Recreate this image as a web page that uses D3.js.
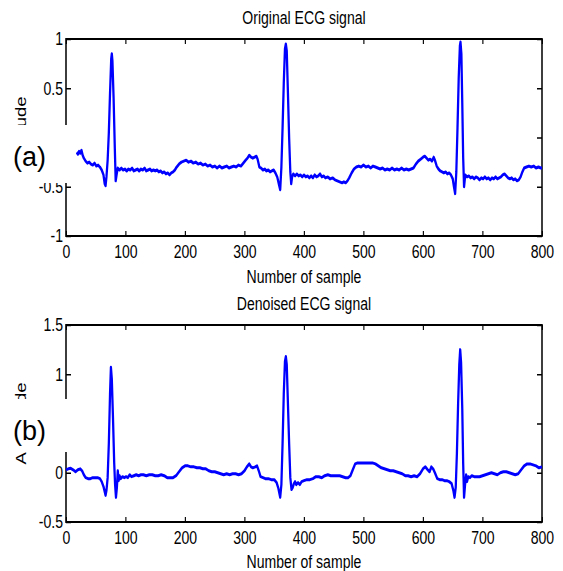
<!DOCTYPE html>
<html>
<head>
<meta charset="utf-8">
<script src="https://cdn.jsdelivr.net/npm/d3@7"></script>
<style>
  body { margin: 0; background: #fff; }
  text { font-family: "Liberation Sans", Arial, sans-serif; }
</style>
</head>
<body>
<svg id="chart" width="563" height="571"></svg>
<script>
// sample axis, shared by both panels
var xTicks = [0, 100, 200, 300, 400, 500, 600, 700, 800];
var xTickLabels = ["0", "100", "200", "300", "400", "500", "600", "700", "800"];

// (a) original ECG
var yTicksA = [1, 0.5, 0, -0.5, -1];
var yTickLabelsA = ["1", "0.5", "0", "-0.5", "-1"];
var sampleA = [18, 20, 22, 24, 26, 28, 30, 33, 36, 39, 42, 45, 48, 51, 54, 57, 60, 63, 65, 66.5, 68, 70, 72, 74, 76, 77, 78, 80, 82, 83.5, 85, 87, 90, 93, 96, 99, 102, 105, 108, 111, 114, 117, 120, 123, 126, 129, 132, 135, 138, 141, 144, 147, 150, 153, 156, 159, 162, 165, 168, 171, 174, 177, 180, 183, 186, 190, 194, 198, 202, 206, 210, 214, 218, 222, 226, 230, 234, 238, 242, 246, 250, 254, 258, 262, 266, 270, 274, 278, 282, 286, 290, 294, 298, 302, 305, 308, 311, 314, 317, 320, 322, 325, 328, 331, 334, 337, 340, 343, 346, 349, 352, 355, 358, 360, 362, 364, 366, 368, 369.5, 371, 373, 375, 377, 378.5, 380, 382, 385, 388, 391, 394, 397, 400, 403, 406, 409, 412, 415, 418, 421, 424, 427, 430, 433, 436, 440, 444, 448, 452, 456, 460, 464, 467, 470, 473, 476, 480, 484, 488, 492, 496, 500, 504, 508, 512, 516, 520, 524, 528, 532, 536, 540, 544, 548, 552, 556, 560, 564, 568, 572, 576, 580, 584, 588, 592, 596, 600, 603, 606, 609, 612, 615, 618, 620, 623, 626, 629, 632, 635, 638, 641, 644, 647, 650, 652, 654, 656, 658, 660, 662, 663, 664.5, 666, 667.5, 669, 671, 674, 677, 680, 683, 686, 689, 692, 695, 698, 701, 704, 707, 710, 713, 716, 719, 722, 725, 728, 731, 734, 737, 740, 743, 746, 749, 752, 755, 758, 761, 764, 767, 770, 774, 778, 782, 786, 790, 794, 798, 800];
var ampA = [-0.15, -0.17, -0.14, -0.16, -0.13, -0.18, -0.21, -0.24, -0.26, -0.25, -0.27, -0.28, -0.26, -0.29, -0.28, -0.30, -0.33, -0.38, -0.47, -0.49, -0.40, -0.23, 0.05, 0.45, 0.80, 0.85, 0.78, 0.40, -0.10, -0.44, -0.38, -0.31, -0.33, -0.31, -0.33, -0.32, -0.34, -0.32, -0.33, -0.31, -0.34, -0.33, -0.32, -0.34, -0.32, -0.33, -0.31, -0.34, -0.33, -0.32, -0.34, -0.33, -0.34, -0.33, -0.35, -0.34, -0.36, -0.35, -0.37, -0.36, -0.38, -0.36, -0.35, -0.33, -0.30, -0.27, -0.25, -0.24, -0.23, -0.25, -0.24, -0.26, -0.25, -0.27, -0.26, -0.28, -0.27, -0.29, -0.28, -0.30, -0.29, -0.31, -0.29, -0.31, -0.30, -0.29, -0.31, -0.30, -0.29, -0.30, -0.28, -0.29, -0.26, -0.23, -0.21, -0.18, -0.20, -0.21, -0.20, -0.19, -0.22, -0.30, -0.31, -0.33, -0.32, -0.34, -0.33, -0.35, -0.34, -0.33, -0.36, -0.40, -0.48, -0.53, -0.30, 0.10, 0.55, 0.90, 0.95, 0.88, 0.45, 0.00, -0.35, -0.47, -0.40, -0.37, -0.39, -0.37, -0.39, -0.38, -0.40, -0.38, -0.40, -0.39, -0.41, -0.39, -0.41, -0.38, -0.40, -0.39, -0.37, -0.40, -0.39, -0.41, -0.40, -0.42, -0.41, -0.43, -0.44, -0.45, -0.46, -0.45, -0.46, -0.44, -0.41, -0.36, -0.32, -0.30, -0.29, -0.30, -0.28, -0.30, -0.29, -0.31, -0.29, -0.30, -0.31, -0.32, -0.31, -0.33, -0.32, -0.33, -0.31, -0.33, -0.32, -0.33, -0.31, -0.33, -0.32, -0.33, -0.32, -0.31, -0.27, -0.24, -0.22, -0.20, -0.19, -0.21, -0.23, -0.22, -0.24, -0.20, -0.23, -0.29, -0.32, -0.34, -0.35, -0.36, -0.35, -0.37, -0.36, -0.38, -0.42, -0.50, -0.57, -0.35, 0.10, 0.60, 0.93, 0.97, 0.85, 0.35, -0.20, -0.50, -0.38, -0.40, -0.39, -0.41, -0.40, -0.42, -0.40, -0.41, -0.43, -0.41, -0.42, -0.40, -0.42, -0.41, -0.43, -0.41, -0.42, -0.40, -0.42, -0.41, -0.40, -0.38, -0.37, -0.39, -0.41, -0.42, -0.41, -0.43, -0.42, -0.44, -0.43, -0.40, -0.35, -0.31, -0.30, -0.29, -0.30, -0.29, -0.31, -0.30, -0.31, -0.31];

// (b) denoised ECG
var yTicksB = [1.5, 1, 0.5, 0, -0.5];
var yTickLabelsB = ["1.5", "1", "0.5", "0", "-0.5"];
var sampleB = [0, 4, 8, 12, 16, 20, 24, 27, 30, 33, 37, 41, 45, 49, 53, 57, 60, 63, 65, 66.5, 68, 70, 72, 74, 75.5, 77, 79, 81, 82.5, 84, 85.5, 87, 88.5, 90, 92, 95, 98, 101, 104, 107, 110, 114, 118, 122, 126, 130, 135, 140, 145, 150, 155, 160, 165, 170, 175, 180, 185, 190, 195, 200, 205, 210, 215, 220, 225, 230, 235, 240, 245, 250, 255, 260, 265, 270, 275, 280, 285, 290, 295, 300, 304, 308, 311, 314, 318, 321, 324, 327, 331, 335, 340, 345, 350, 354, 357, 360, 362, 364, 366, 368, 369.5, 371, 373, 375, 377, 379, 381, 383, 385, 387, 390, 393, 396, 400, 405, 410, 415, 420, 425, 430, 435, 440, 445, 450, 455, 460, 465, 470, 474, 478, 482, 486, 490, 495, 500, 505, 510, 515, 520, 525, 530, 535, 540, 545, 550, 555, 560, 565, 570, 575, 580, 585, 590, 595, 600, 604, 608, 611, 614, 617, 620, 624, 628, 632, 636, 640, 644, 648, 651, 653, 655, 657, 659, 661, 662.5, 664, 666, 667.5, 669, 671, 672.5, 674, 676, 679, 682, 686, 690, 695, 700, 705, 710, 715, 720, 725, 730, 735, 740, 745, 750, 755, 760, 765, 770, 775, 780, 785, 790, 795, 800];
var ampB = [0.03, 0.04, 0.045, 0.03, 0.01, 0.03, 0.04, 0.02, -0.02, -0.05, -0.06, -0.06, -0.05, -0.05, -0.05, -0.06, -0.09, -0.14, -0.19, -0.23, -0.18, -0.05, 0.30, 0.80, 1.07, 0.95, 0.55, 0.10, -0.12, -0.25, -0.15, 0.02, -0.08, -0.03, -0.06, -0.04, -0.05, -0.04, -0.05, -0.02, -0.04, -0.03, -0.02, -0.03, -0.02, -0.02, -0.03, -0.02, -0.02, -0.03, -0.03, -0.02, -0.03, -0.05, -0.05, -0.05, -0.03, 0.01, 0.05, 0.07, 0.07, 0.06, 0.06, 0.05, 0.05, 0.04, 0.04, 0.02, 0.01, 0.01, 0.00, -0.01, -0.02, -0.01, -0.02, -0.01, -0.01, -0.02, -0.01, 0.02, 0.06, 0.09, 0.06, 0.05, 0.06, 0.07, 0.02, -0.04, -0.05, -0.06, -0.06, -0.07, -0.07, -0.10, -0.16, -0.25, -0.12, 0.30, 0.80, 1.13, 1.18, 1.10, 0.70, 0.30, -0.05, -0.17, -0.15, -0.11, -0.09, -0.12, -0.10, -0.12, -0.09, -0.08, -0.07, -0.07, -0.06, -0.04, -0.04, -0.05, -0.03, -0.02, -0.03, -0.03, -0.03, -0.03, -0.04, -0.05, -0.05, -0.03, 0.03, 0.09, 0.10, 0.10, 0.10, 0.10, 0.10, 0.10, 0.09, 0.07, 0.05, 0.04, 0.03, 0.02, 0.02, 0.01, 0.00, -0.01, -0.03, -0.03, -0.04, -0.03, -0.04, -0.01, 0.04, 0.06, 0.03, 0.01, 0.06, 0.04, 0.00, -0.06, -0.07, -0.07, -0.08, -0.08, -0.09, -0.11, -0.18, -0.25, -0.15, 0.20, 0.70, 1.10, 1.25, 1.12, 0.65, 0.10, -0.25, -0.10, -0.02, -0.09, -0.04, -0.05, -0.03, -0.04, -0.04, -0.04, -0.03, -0.02, -0.01, 0.00, -0.01, -0.02, 0.00, 0.01, 0.01, 0.00, -0.01, -0.02, -0.01, 0.03, 0.07, 0.09, 0.09, 0.08, 0.07, 0.05, 0.06];

// the figure was exported wide and squeezed sideways, so draw in a wider space and scale x
var squeeze = 0.76;
var fontSize = 18.5;

var svg = d3.select("#chart");
var root = svg.append("g").attr("transform", "scale(" + squeeze + ",1)");

function panel(p) {
    var left = 66 / squeeze, right = 542 / squeeze;
    var g = root.append("g");

    var x = d3.scaleLinear().domain([0, 800]).range([left, right]);
    var y = d3.scaleLinear().domain(p.yDomain).range([p.bottom, p.top]);

    function styleAxis(a) {
        a.select(".domain").remove();
        a.attr("font-size", fontSize).attr("font-family", null);
        a.selectAll("line").attr("stroke-width", 1.5);
    }

    g.append("g")
        .attr("transform", "translate(0," + p.bottom + ")")
        .call(d3.axisBottom(x).tickValues(xTicks).tickFormat((d, i) => xTickLabels[i])
            .tickSizeInner(-5).tickSizeOuter(0).tickPadding(9))
        .call(styleAxis);

    g.append("g")
        .attr("transform", "translate(0," + p.top + ")")
        .call(d3.axisTop(x).tickValues(xTicks).tickFormat("").tickSizeInner(-5).tickSizeOuter(0))
        .call(styleAxis);

    g.append("g")
        .attr("transform", "translate(" + left + ",0)")
        .call(d3.axisLeft(y).tickValues(p.yTicks).tickFormat((d, i) => p.yLabels[i])
            .tickSizeInner(-5 / squeeze).tickSizeOuter(0).tickPadding(4))
        .call(styleAxis);

    g.append("g")
        .attr("transform", "translate(" + right + ",0)")
        .call(d3.axisRight(y).tickValues(p.yTicks).tickFormat("").tickSizeInner(-5 / squeeze).tickSizeOuter(0))
        .call(styleAxis);

    g.append("rect")
        .attr("x", left).attr("y", p.top)
        .attr("width", right - left).attr("height", p.bottom - p.top)
        .attr("fill", "none").attr("stroke", "#000").attr("stroke-width", 2);

    var pts = p.samples.map((s, i) => [s, p.values[i]]);
    var line = d3.line().x(d => x(d[0])).y(d => y(d[1]));

    g.append("path")
        .datum(pts)
        .attr("d", line)
        .attr("fill", "none")
        .attr("stroke", "#0000ff")
        .attr("stroke-width", 3)
        .attr("stroke-linejoin", "round");

    g.append("text")
        .attr("x", (left + right) / 2).attr("y", p.titleY)
        .attr("text-anchor", "middle").attr("font-size", fontSize)
        .text(p.title);

    g.append("text")
        .attr("x", (left + right) / 2).attr("y", p.xlabelY)
        .attr("text-anchor", "middle").attr("font-size", fontSize)
        .text("Number of sample");

    g.append("text")
        .attr("transform", "translate(" + (25.5 / squeeze) + "," + ((p.top + p.bottom) / 2) + ") rotate(-90)")
        .attr("text-anchor", "middle").attr("font-size", fontSize)
        .text("Amplitude");
}

panel({
    top: 39, bottom: 236, yDomain: [-1, 1],
    yTicks: yTicksA, yLabels: yTickLabelsA,
    samples: sampleA, values: ampA,
    title: "Original ECG signal", titleY: 24, xlabelY: 283
});

panel({
    top: 325, bottom: 522, yDomain: [-0.5, 1.5],
    yTicks: yTicksB, yLabels: yTickLabelsB,
    samples: sampleB, values: ampB,
    title: "Denoised ECG signal", titleY: 310, xlabelY: 568
});

// pasted-on panel letters, each on a white patch over the y label
var patches = [
    { x: 0, y: 125, w: 76, h: 58, label: "(a)", ty: 166 },
    { x: 0, y: 399, w: 72, h: 53, label: "(b)", ty: 440 }
];

svg.selectAll(".patch")
    .data(patches)
    .enter()
    .append("rect")
    .attr("class", "patch")
    .attr("x", d => d.x).attr("y", d => d.y)
    .attr("width", d => d.w).attr("height", d => d.h)
    .attr("fill", "#fff");

svg.selectAll(".letter")
    .data(patches)
    .enter()
    .append("text")
    .attr("class", "letter")
    .attr("x", 13).attr("y", d => d.ty)
    .attr("font-family", "'Open Sans', sans-serif")
    .attr("font-size", 27)
    .text(d => d.label);
</script>
</body>
</html>
